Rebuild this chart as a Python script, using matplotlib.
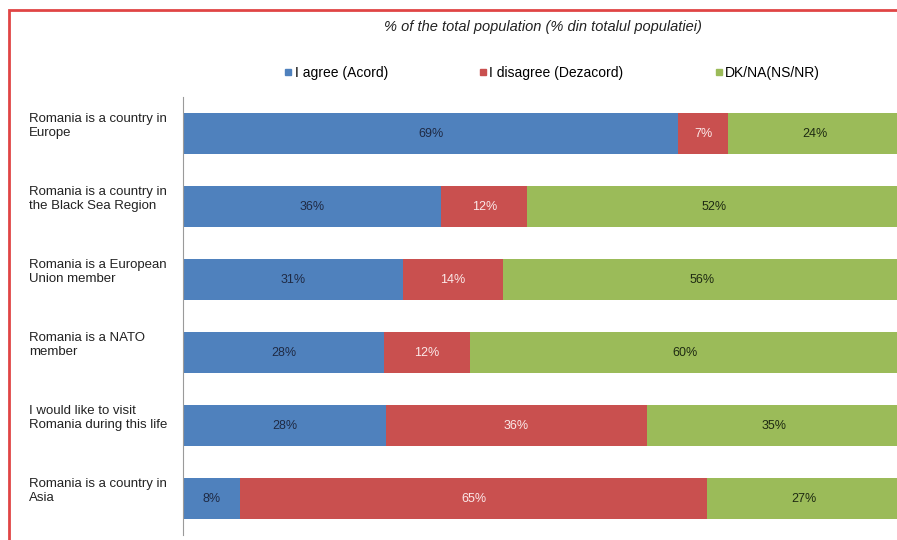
import matplotlib.pyplot as plt
from matplotlib.lines import Line2D
from matplotlib.patches import Rectangle

plt.rcParams['font.family'] = ['Liberation Sans', 'DejaVu Sans']

# survey statements, top to bottom
statements = [
    "Romania is a country in\nEurope",
    "Romania is a country in\nthe Black Sea Region",
    "Romania is a European\nUnion member",
    "Romania is a NATO\nmember",
    "I would like to visit\nRomania during this life",
    "Romania is a country in\nAsia",
]
agree = [69, 36, 31, 28, 28, 8]
disagree = [7, 12, 14, 12, 36, 65]
dk_na = [24, 52, 56, 60, 35, 27]

series_names = ["I agree (Acord)", "I disagree (Dezacord)", "DK/NA(NS/NR)"]
colors = ['#4F81BD', '#C9504F', '#9BBB59']
text_colors = ['#1F2A44', '#FBE9E9', '#1E2A12']

# 100% stacked: each row scaled to its own total
totals = [a + b + c for a, b, c in zip(agree, disagree, dk_na)]

fig = plt.figure(figsize=(8.97, 5.4), dpi=100)
ax = fig.add_axes([0.204, 0.009, 0.800, 0.811])

y = list(range(len(statements)))
left = [0] * len(statements)
for vals, name, col, tcol in zip([agree, disagree, dk_na], series_names, colors, text_colors):
    widths = [v / t * 100 for v, t in zip(vals, totals)]
    bars = ax.barh(y, widths, left=left, height=0.56, color=col, label=name)
    ax.bar_label(bars, labels=[f"{v}%" for v in vals], label_type='center',
                 color=tcol, fontsize=9)
    left = [a + b for a, b in zip(left, widths)]

ax.set_xlim(0, 100)
ax.set_ylim(len(statements) - 0.5, -0.5)
ax.set_xticks([])
ax.set_yticks([])
for side in ['top', 'right', 'bottom']:
    ax.spines[side].set_visible(False)
ax.spines['left'].set_color('#9A9A9A')

# statement labels, left of the axis
for i, s in enumerate(statements):
    ax.text(-0.215, i - 0.1, s, transform=ax.get_yaxis_transform(),
            ha='left', va='center', fontsize=9.5, color='#222222', linespacing=1.2)

fig.text(543 / 897, 1 - 27 / 540, "% of the total population (% din totalul populatiei)",
         ha='center', va='center', fontsize=10.5, style='italic', color='#222222')

handles = [Line2D([], [], marker='s', linestyle='', color=c, markersize=4.5) for c in colors]
fig.legend(handles, series_names, loc='center left', bbox_to_anchor=(285 / 897, 1 - 73 / 540),
           ncol=3, frameon=False, fontsize=10, handlelength=0.5, handletextpad=0.2,
           columnspacing=6.6, borderpad=0, borderaxespad=0)

# red frame around the slide
fig.patches.append(Rectangle((9 / 897, -0.1), 1.2, 1.1 - 10 / 540, transform=fig.transFigure,
                             fill=False, edgecolor='#E04545', linewidth=2))

fig.savefig('out.png', dpi=100)
